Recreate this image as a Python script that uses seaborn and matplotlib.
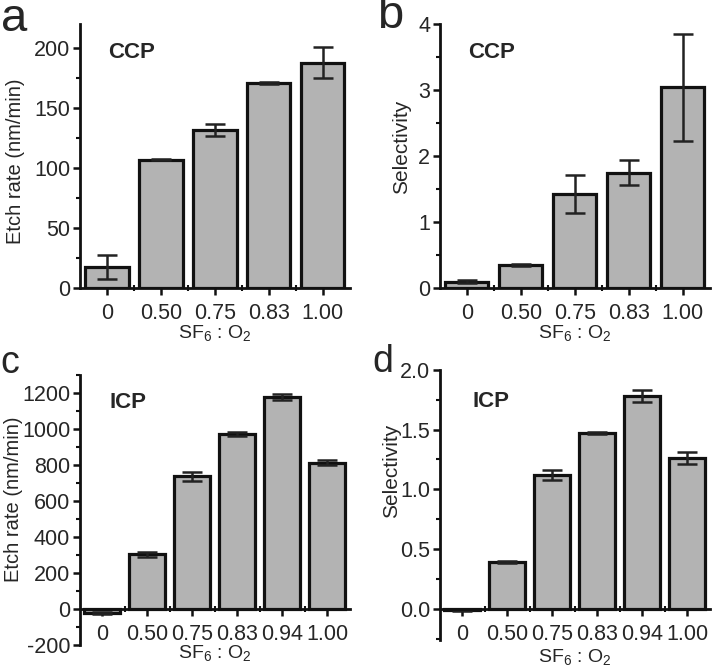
import numpy as np
import pandas as pd
import matplotlib
matplotlib.use('Agg')
import matplotlib.pyplot as plt
from matplotlib.ticker import MultipleLocator, FixedLocator
import seaborn as sns

# data
ccp_ratio = ['0', '0.50', '0.75', '0.83', '1.00']
ccp_rate = [18, 107, 132, 171, 188]
ccp_rate_err = [10, 0.5, 5, 0.5, 13]
ccp_sel = [0.10, 0.35, 1.43, 1.75, 3.04]
ccp_sel_err = [0.02, 0.02, 0.29, 0.19, 0.81]

icp_ratio = ['0', '0.50', '0.75', '0.83', '0.94', '1.00']
icp_rate = [-20, 305, 740, 975, 1178, 815]
icp_rate_err = [5, 15, 25, 12, 15, 12]
icp_sel = [-0.01, 0.39, 1.12, 1.47, 1.78, 1.26]
icp_sel_err = [0.005, 0.01, 0.04, 0.01, 0.05, 0.05]

sns.set_style('ticks')
plt.rcParams['font.family'] = ['Liberation Sans', 'DejaVu Sans']
plt.rcParams['mathtext.fontset'] = 'custom'
plt.rcParams['mathtext.rm'] = 'Liberation Sans'
plt.rcParams['mathtext.it'] = 'Liberation Sans'
plt.rcParams['axes.unicode_minus'] = False

fig = plt.figure(figsize=(7.14, 6.7), dpi=100)

# letter, tag, cats, vals, errs, ylabel, rect, ylim, major, minor,
# tag pos, ylabel pos, xlabel baseline, letter pos, letter size
panels = [
    ('a', 'CCP', ccp_ratio, ccp_rate, ccp_rate_err, 'Etch rate (nm/min)',
     [0.112, 0.570, 0.378, 0.394], (0, 220), 50, 25,
     (0.105, 0.894), (-0.24, 0.48), -0.19, (0.020, 0.954), 34),
    ('b', 'CCP', ccp_ratio, ccp_sel, ccp_sel_err, 'Selectivity',
     [0.616, 0.570, 0.378, 0.394], (0, 4), 1, 0.5,
     (0.104, 0.894), (-0.14, 0.534), -0.19, (0.546, 0.958), 34),
    ('c', 'ICP', icp_ratio, icp_rate, icp_rate_err, 'Etch rate (nm/min)',
     [0.112, 0.037, 0.378, 0.403], (-200, 1300), 200, 100,
     (0.11, 0.9), (-0.248, 0.54), -0.048, (0.013, 0.443), 27),
    ('d', 'ICP', icp_ratio, icp_sel, icp_sel_err, 'Selectivity',
     [0.616, 0.045, 0.378, 0.403], (-0.26, 2.0), 0.5, 0.25,
     (0.122, 0.881), (-0.178, 0.626), -0.081, (0.536, 0.445), 27),
]

for (letter, tag, cats, vals, errs, ylab, rect, ylim, major, minor,
     tagpos, ylpos, xly, letpos, letsize) in panels:
    ax = fig.add_axes(rect)
    df = pd.DataFrame({'ratio': cats, 'val': vals})
    sns.barplot(data=df, x='ratio', y='val', color='#b3b3b3', saturation=1,
                edgecolor='#111111', linewidth=2.3, width=0.8, errorbar=None, ax=ax)
    ax.errorbar(np.arange(len(cats)), vals, yerr=errs, fmt='none',
                ecolor='#222222', elinewidth=1.8, capsize=7, capthick=1.8)
    n = len(cats)
    ax.set_xlim(-0.5, n - 0.5)
    ax.set_ylim(*ylim)
    ax.spines['top'].set_visible(False)
    ax.spines['right'].set_visible(False)
    ax.spines['bottom'].set_position(('data', 0))
    for s in ('left', 'bottom'):
        ax.spines[s].set_linewidth(2)
        ax.spines[s].set_color('#111111')
    ax.yaxis.set_major_locator(MultipleLocator(major))
    ax.yaxis.set_minor_locator(MultipleLocator(minor))
    ax.xaxis.set_minor_locator(FixedLocator(np.arange(n - 1) + 0.5))
    ax.tick_params(axis='both', which='major', direction='out', length=5,
                   width=1.8, labelsize=15.5, color='#111111')
    ax.tick_params(axis='both', which='minor', direction='inout', length=5,
                   width=1.5, color='#111111')
    ax.tick_params(axis='y', which='minor', direction='out', length=3)
    ax.tick_params(axis='x', which='major', pad=6)
    ax.tick_params(axis='y', which='major', pad=2)

    ax.set_xlabel(r'SF$_6$ : O$_2$', fontsize=14)
    ax.xaxis.label.set_va('baseline')
    ax.xaxis.set_label_coords(0.5, xly)

    ax.set_ylabel(ylab, fontsize=14.5 if 'Etch' in ylab else 15)
    ax.yaxis.label.set_va('center')
    ax.yaxis.set_label_coords(*ylpos)

    ax.text(tagpos[0], tagpos[1], tag, transform=ax.transAxes, fontsize=16,
            fontweight='bold', ha='left', va='center')
    fig.text(letpos[0], letpos[1], letter, fontsize=letsize,
             ha='center', va='baseline')

fig.savefig('out.png', dpi=100)
